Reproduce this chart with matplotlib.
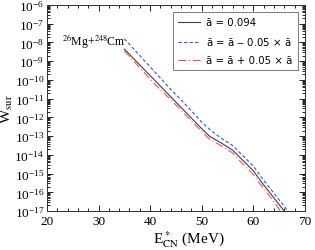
import numpy as np
import matplotlib.pyplot as plt
from matplotlib.ticker import MultipleLocator, LogLocator, FixedLocator

plt.rcParams['mathtext.fontset'] = 'stix'
plt.rcParams['font.family'] = 'Liberation Serif'

# log10(W_sur)
e_ref = [35, 38, 41, 44, 47, 50, 51.5, 54, 56, 58, 60, 62, 64, 66, 67]
w_ref = [-8.35, -9.2, -10.05, -10.9, -11.75, -12.6, -13.0, -13.4, -13.75,
         -14.3, -14.85, -15.6, -16.3, -17.0, -17.4]

e_minus = [35, 38, 41, 44, 47, 50, 52, 54, 56, 58, 60, 62, 64, 66, 67.5]
w_minus = [-7.8, -8.7, -9.6, -10.5, -11.35, -12.25, -12.75, -13.15, -13.5,
           -14.05, -14.6, -15.35, -16.05, -16.75, -17.3]

e_plus = [35, 38, 41, 44, 47, 50, 51.5, 54, 56, 58, 60, 62, 64, 65.5]
w_plus = [-8.45, -9.35, -10.25, -11.05, -11.9, -12.75, -13.15, -13.55, -13.9,
          -14.5, -15.05, -15.8, -16.5, -17.1]

fig = plt.figure(figsize=(3.15, 2.51), dpi=100)
ax = fig.add_axes([0.149, 0.155, 0.819, 0.821])

ax.semilogy(e_ref, 10.0 ** np.array(w_ref), color='#404040', lw=0.8,
            label='ã = 0.094')
ax.semilogy(e_minus, 10.0 ** np.array(w_minus), color='#3a4dff', lw=0.8,
            ls=(0, (3, 2)), label='ã = ã $-$ 0.05 × ã')
ax.semilogy(e_plus, 10.0 ** np.array(w_plus), color='#ff5050', lw=0.8,
            ls=(0, (7, 2.5, 1, 2.5)), label='ã = ã + 0.05 × ã')

ax.set_xlim(20, 70)
ax.set_ylim(1e-17, 1e-6)
ax.xaxis.set_major_locator(MultipleLocator(10))
ax.xaxis.set_minor_locator(MultipleLocator(2))
ax.yaxis.set_major_locator(FixedLocator([10.0 ** k for k in range(-17, -5)]))
ax.yaxis.set_minor_locator(LogLocator(base=10, subs=np.arange(2, 10), numticks=200))
ax.tick_params(which='both', direction='in', top=True, right=True, width=0.6)
ax.tick_params(which='major', length=4, labelsize=9.5)
ax.tick_params(axis='y', which='major', pad=2)
ax.tick_params(axis='x', which='major', pad=3)
ax.tick_params(which='minor', length=2)
for s in ax.spines.values():
    s.set_linewidth(0.7)
    s.set_color('#303030')

ax.set_ylabel(r'W$_{\rm sur}$', fontsize=11)
ax.yaxis.set_label_coords(-0.125, 0.5)
ax.set_xlabel(r'E$^*_{\rm CN}$ (MeV)', fontsize=11)
ax.xaxis.set_label_coords(0.55, -0.085)

ax.text(22.9, 10 ** -7.85, r'$^{26}$Mg+$^{248}$Cm', fontsize=8.5, va='center')

leg = ax.legend(loc='upper right', frameon=True, fancybox=False,
                handlelength=2.2, handletextpad=0.6, borderpad=0.5,
                labelspacing=0.8, borderaxespad=0.7,
                prop={'family': 'DejaVu Sans', 'size': 7.3})
leg.get_frame().set_edgecolor('#404040')
leg.get_frame().set_linewidth(0.6)

fig.savefig('out.png', dpi=100)
